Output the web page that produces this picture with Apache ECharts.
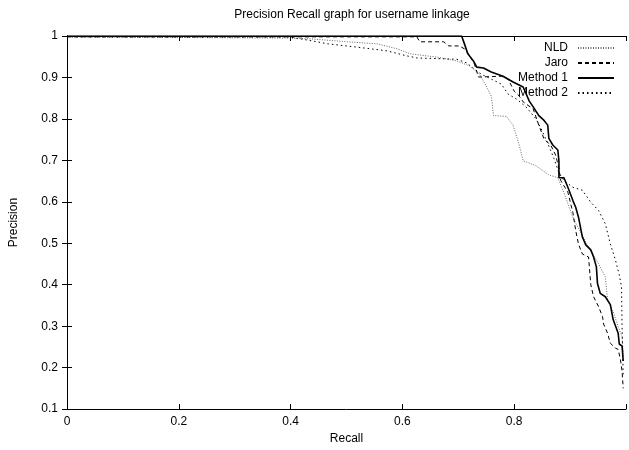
<!DOCTYPE html>
<html>
<head>
<meta charset="utf-8">
<script src="https://cdn.jsdelivr.net/npm/echarts@6/dist/echarts.min.js"></script>
<style>
html,body{margin:0;padding:0;background:#fff;}
#chart{width:629px;height:450px;}
</style>
</head>
<body>
<div id="chart"></div>
<script>
// ---- data ----
var seriesNames = ['NLD', 'Jaro', 'Method 1', 'Method 2'];
var xTicks = [0, 0.2, 0.4, 0.6, 0.8];
var yTicks = [0.1, 0.2, 0.3, 0.4, 0.5, 0.6, 0.7, 0.8, 0.9, 1];

var nldRecall = [0, 0.396, 0.436, 0.502, 0.555, 0.591, 0.614, 0.662, 0.697, 0.720, 0.738, 0.750, 0.759, 0.763, 0.786, 0.798, 0.809, 0.816, 0.839, 0.862, 0.878, 0.892, 0.905, 0.928, 0.951, 0.963, 0.967, 0.977, 0.986, 0.993, 0.995];
var nldPrecision = [0.998, 0.995, 0.993, 0.986, 0.981, 0.969, 0.957, 0.949, 0.940, 0.928, 0.908, 0.879, 0.855, 0.808, 0.806, 0.785, 0.737, 0.699, 0.687, 0.665, 0.658, 0.611, 0.562, 0.503, 0.450, 0.419, 0.364, 0.335, 0.299, 0.275, 0.228];

var jaroRecall = [0, 0.626, 0.631, 0.674, 0.683, 0.702, 0.711, 0.718, 0.729, 0.736, 0.777, 0.789, 0.800, 0.809, 0.816, 0.834, 0.844, 0.853, 0.866, 0.874, 0.880, 0.883, 0.896, 0.905, 0.910, 0.915, 0.922, 0.933, 0.937, 0.942, 0.951, 0.958, 0.960, 0.967, 0.972, 0.981, 0.986, 0.990, 0.993, 0.995];
var jaroPrecision = [0.998, 0.998, 0.986, 0.986, 0.976, 0.976, 0.969, 0.957, 0.932, 0.901, 0.903, 0.896, 0.867, 0.855, 0.841, 0.824, 0.785, 0.753, 0.735, 0.713, 0.682, 0.652, 0.623, 0.574, 0.531, 0.498, 0.474, 0.467, 0.400, 0.371, 0.347, 0.323, 0.305, 0.283, 0.259, 0.247, 0.244, 0.220, 0.191, 0.150];

var m1Recall = [0, 0.706, 0.711, 0.717, 0.727, 0.733, 0.745, 0.759, 0.780, 0.798, 0.816, 0.827, 0.834, 0.844, 0.853, 0.860, 0.862, 0.869, 0.878, 0.880, 0.880, 0.889, 0.896, 0.905, 0.910, 0.915, 0.922, 0.928, 0.937, 0.942, 0.947, 0.949, 0.954, 0.963, 0.972, 0.977, 0.986, 0.988, 0.993, 0.995];
var m1Precision = [1, 1, 0.981, 0.957, 0.940, 0.925, 0.923, 0.913, 0.903, 0.889, 0.877, 0.843, 0.829, 0.808, 0.797, 0.785, 0.753, 0.737, 0.725, 0.699, 0.658, 0.658, 0.635, 0.603, 0.587, 0.563, 0.515, 0.496, 0.484, 0.467, 0.443, 0.403, 0.379, 0.371, 0.352, 0.316, 0.283, 0.257, 0.252, 0.216];

var m2Recall = [0, 0.396, 0.431, 0.467, 0.520, 0.573, 0.608, 0.626, 0.697, 0.715, 0.729, 0.741, 0.759, 0.777, 0.789, 0.804, 0.821, 0.839, 0.848, 0.860, 0.871, 0.880, 0.889, 0.905, 0.922, 0.937, 0.951, 0.963, 0.972, 0.981, 0.988, 0.992, 0.993, 0.995];
var m2Precision = [0.998, 0.998, 0.990, 0.981, 0.973, 0.964, 0.952, 0.947, 0.944, 0.935, 0.920, 0.908, 0.896, 0.884, 0.860, 0.848, 0.829, 0.800, 0.777, 0.741, 0.705, 0.670, 0.651, 0.635, 0.628, 0.599, 0.579, 0.547, 0.498, 0.460, 0.424, 0.395, 0.299, 0.179];

function pairs(xs, ys) { return xs.map(function (x, i) { return [x, ys[i]]; }); }

var FONT = '"Liberation Sans", Arial, Helvetica, sans-serif';
var chart = echarts.init(document.getElementById('chart'), null, {renderer: 'canvas'});

function lineSeries(name, data, style) {
  return {
    name: name, type: 'line', data: data, symbol: 'none', showSymbol: false,
    animation: false, clip: true, z: style.z || 2,
    lineStyle: {color: style.color, width: style.width, type: style.type},
    itemStyle: {color: style.color},
    emphasis: {disabled: true}
  };
}

var option = {
  animation: false,
  backgroundColor: '#fff',
  title: {
    text: 'Precision Recall graph for username linkage',
    left: 347, top: 4, textAlign: 'center',
    textStyle: {fontFamily: FONT, fontSize: 12, fontWeight: 'normal', color: '#000'}
  },
  legend: {
    data: seriesNames,
    orient: 'vertical', align: 'right',
    right: 9, top: 37,
    itemWidth: 36, itemHeight: 10, itemGap: 3,
    itemStyle: {opacity: 0, borderWidth: 0},
    textStyle: {fontFamily: FONT, fontSize: 12, color: '#000', padding: [0, 5, 0, 0]},
    selectedMode: false
  },
  grid: {left: 67, right: -2, top: 36, bottom: 37, containLabel: false},
  xAxis: [{
    type: 'value', min: 0, max: 1, interval: 0.2,
    name: 'Recall', nameLocation: 'middle', nameGap: 23,
    nameTextStyle: {fontFamily: FONT, fontSize: 12, color: '#000'},
    axisLine: {show: true, lineStyle: {color: '#000', width: 1}},
    axisTick: {show: true, inside: true, length: 5, lineStyle: {color: '#000'}},
    axisLabel: {fontFamily: FONT, fontSize: 12, color: '#000', margin: 7,
      formatter: function (v) { return xTicks.indexOf(+v.toFixed(1)) >= 0 ? String(+v.toFixed(1)) : ''; }},
    splitLine: {show: false}
  }, {
    type: 'value', min: 0, max: 1, interval: 0.2, position: 'top',
    axisLine: {show: true, lineStyle: {color: '#000', width: 1}},
    axisTick: {show: true, inside: true, length: 5, lineStyle: {color: '#000'}},
    axisLabel: {show: false}, splitLine: {show: false}
  }],
  yAxis: [{
    type: 'value', min: 0.1, max: 1, interval: 0.1,
    name: 'Precision', nameLocation: 'middle', nameGap: 47, nameRotate: 90,
    nameTextStyle: {fontFamily: FONT, fontSize: 12, color: '#000'},
    axisLine: {show: true, lineStyle: {color: '#000', width: 1}},
    axisTick: {show: true, inside: true, length: 5, lineStyle: {color: '#000'}},
    axisLabel: {fontFamily: FONT, fontSize: 12, color: '#000', margin: 9,
      formatter: function (v) { return String(+v.toFixed(1)); }},
    splitLine: {show: false}
  }, {
    type: 'value', min: 0.1, max: 1, interval: 0.1, position: 'right',
    axisLine: {show: true, lineStyle: {color: '#000', width: 1}},
    axisTick: {show: true, inside: true, length: 5, lineStyle: {color: '#000'}},
    axisLabel: {show: false}, splitLine: {show: false}
  }],
  series: [
    lineSeries('NLD', pairs(nldRecall, nldPrecision), {color: '#666', width: 1, type: [1, 1.5]}),
    lineSeries('Jaro', pairs(jaroRecall, jaroPrecision), {color: '#000', width: 1, type: [4, 3]}),
    lineSeries('Method 1', pairs(m1Recall, m1Precision), {color: '#000', width: 1.6, type: 'solid', z: 3}),
    lineSeries('Method 2', pairs(m2Recall, m2Precision), {color: '#000', width: 1, type: [1.5, 3]})
  ]
};
chart.setOption(option);
</script>
</body>
</html>
